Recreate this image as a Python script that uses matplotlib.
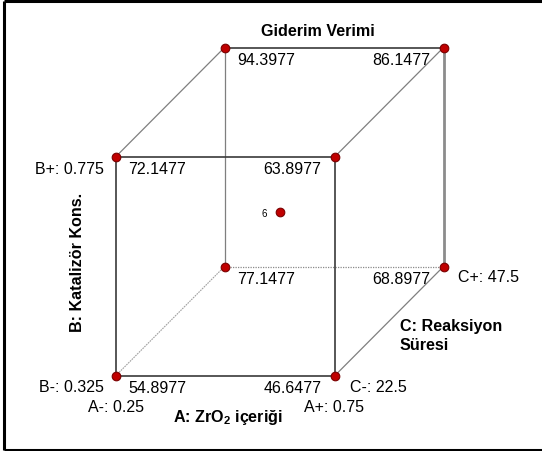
import matplotlib
matplotlib.use("Agg")
import matplotlib.pyplot as plt
from matplotlib.lines import Line2D

plt.rcParams["font.family"] = ["Liberation Sans", "DejaVu Sans"]
plt.rcParams["mathtext.fontset"] = "custom"
plt.rcParams["mathtext.rm"] = "Liberation Sans"
plt.rcParams["mathtext.bf"] = "Liberation Sans:bold"

# Factor levels
a_levels = [0.25, 0.75]      # A: ZrO2 içeriği
b_levels = [0.325, 0.775]    # B: Katalizör Kons.
c_levels = [22.5, 47.5]      # C: Reaksiyon Süresi

# Predicted response at each corner, ordered (A, B, C) in coded units
corner_codes = [(-1, -1, -1), (1, -1, -1), (-1, 1, -1), (1, 1, -1),
                (-1, -1, 1), (1, -1, 1), (-1, 1, 1), (1, 1, 1)]
corner_values = [54.8977, 46.6477, 72.1477, 63.8977,
                 77.1477, 68.8977, 94.3977, 86.1477]
center_points = 6

title = "Giderim Verimi"
a_name = r"A: ZrO$_{\mathbf{2}}$ içeriği"
b_name = "B: Katalizör Kons."
c_name = "C: Reaksiyon\nSüresi"

# Oblique projection of the cube onto the page (pixel units, y downward)
X0, Y0 = 115.5, 377.0
W, H = 219.0, 219.0
DX, DY = 109.0, 109.5


def project(a, b, c):
    fa, fb, fc = (a + 1) / 2, (b + 1) / 2, (c + 1) / 2
    return X0 + fa * W + fc * DX, Y0 - fb * H - fc * DY


fig = plt.figure(figsize=(5.42, 4.52), dpi=100)
ax = fig.add_axes([0, 0, 1, 1])
ax.set_xlim(0, 542)
ax.set_ylim(452, 0)
ax.axis("off")

# Outer frame (left, top, bottom)
frame = dict(color="black", lw=2.2, solid_capstyle="butt")
ax.add_line(Line2D([3.5, 3.5], [1.5, 450.5], **frame))
ax.add_line(Line2D([3.5, 542], [1.5, 1.5], **frame))
ax.add_line(Line2D([3.5, 542], [450.5, 450.5], **frame))

dark = dict(color="#3a3a3a", lw=1.2, zorder=2)
gray = dict(color="#7f7f7f", lw=0.9, zorder=1)
edges = [
    # front face
    ((-1, -1, -1), (1, -1, -1), dark),
    ((-1, 1, -1), (1, 1, -1), dark),
    ((-1, -1, -1), (-1, 1, -1), dark),
    ((1, -1, -1), (1, 1, -1), dark),
    # back face
    ((-1, 1, 1), (1, 1, 1), dark),
    ((1, -1, 1), (1, 1, 1), dict(color="#8c8c8c", lw=2.0, zorder=1)),
    ((-1, -1, 1), (-1, 1, 1), gray),
    ((-1, -1, 1), (1, -1, 1), dict(color="#8a8a8a", lw=0.9, ls=(0, (1, 1)), zorder=1)),
    # depth edges
    ((-1, 1, -1), (-1, 1, 1), gray),
    ((1, 1, -1), (1, 1, 1), gray),
    ((1, -1, -1), (1, -1, 1), gray),
    ((-1, -1, -1), (-1, -1, 1), dict(color="#a0a0a0", lw=0.8, ls=(0, (1.5, 0.8)), zorder=1)),
]
for p, q, st in edges:
    x1, y1 = project(*p)
    x2, y2 = project(*q)
    ax.add_line(Line2D([x1, x2], [y1, y2], **st))

# Corner points and their responses
fs = 11.5
for code, val in zip(corner_codes, corner_values):
    x, y = project(*code)
    ax.plot(x, y, "o", ms=6.2, mfc="#c00000", mec="#7a0000", mew=0.8, zorder=5)
    if code[0] < 0:
        ax.text(x + 13, y + 12, f"{val:.4f}", ha="left", va="center", fontsize=fs)
    else:
        ax.text(x - 13, y + 12, f"{val:.4f}", ha="right", va="center", fontsize=fs)

# Center point
cx, cy = project(0, 0, 0)
ax.plot(cx, cy, "o", ms=6.2, mfc="#c00000", mec="#7a0000", mew=0.8, zorder=5)
ax.text(cx - 15, cy + 1, str(center_points), ha="center", va="center", fontsize=7)

# Factor level labels
x, y = project(-1, 1, -1)
ax.text(x - 12, y + 12, f"B+: {b_levels[1]}", ha="right", va="center", fontsize=fs)
x, y = project(-1, -1, -1)
ax.text(x - 12, y + 11, f"B-: {b_levels[0]}", ha="right", va="center", fontsize=fs)
ax.text(x, y + 31, f"A-: {a_levels[0]}", ha="center", va="center", fontsize=fs)
x, y = project(1, -1, -1)
ax.text(x, y + 31, f"A+: {a_levels[1]}", ha="center", va="center", fontsize=fs)
ax.text(x + 15, y + 11, f"C-: {c_levels[0]}", ha="left", va="center", fontsize=fs)
x, y = project(1, -1, 1)
ax.text(x + 15, y + 10, f"C+: {c_levels[1]}", ha="left", va="center", fontsize=fs)

# Axis names and title
bfs = 11.6
ax.text(318, 32, title, ha="center", va="center", fontsize=bfs, fontweight="bold")
ax.text(228, 418, a_name, ha="center", va="center", fontsize=bfs, fontweight="bold")
ax.text(78, 262, b_name, ha="center", va="center", rotation=90, fontsize=bfs, fontweight="bold")
ax.text(400, 336, c_name, ha="left", va="center", fontsize=bfs, fontweight="bold",
        linespacing=1.3)

fig.savefig("out.png", dpi=100)
